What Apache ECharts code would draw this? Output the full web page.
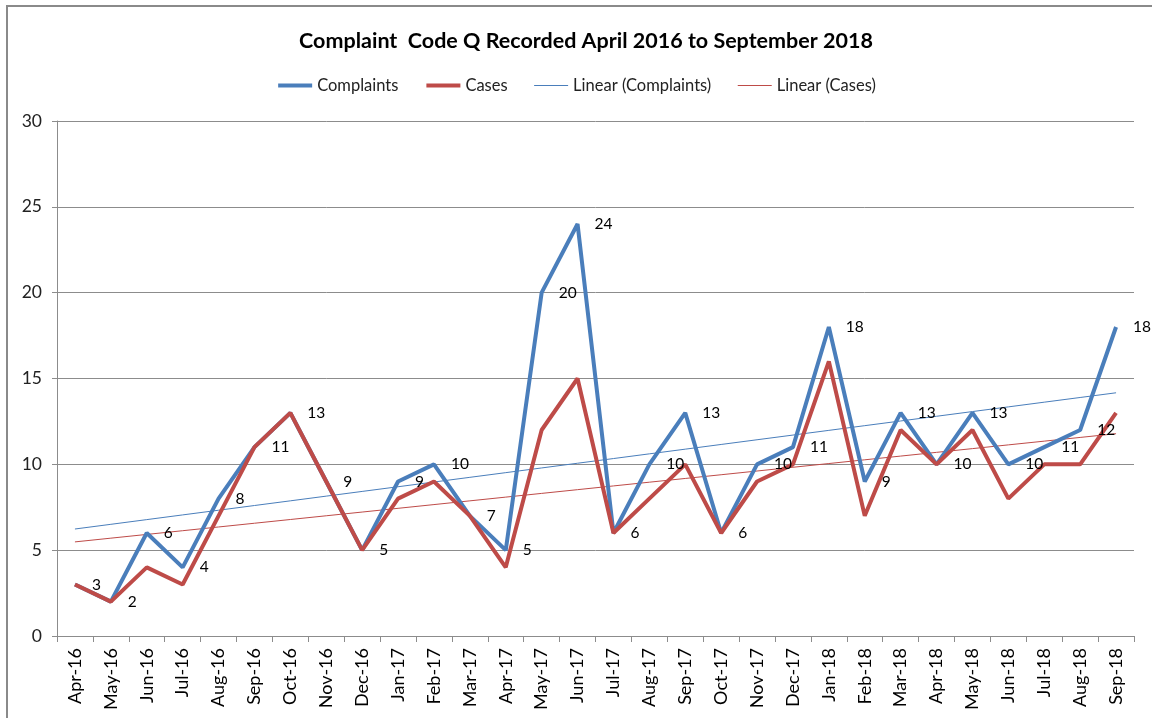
<!DOCTYPE html>
<html>
<head>
<meta charset="utf-8">
<script src="https://cdn.jsdelivr.net/npm/echarts@6/dist/echarts.min.js"></script>
<style>html,body{margin:0;padding:0;background:#fff;}#c{width:1152px;height:718px;}</style>
</head>
<body>
<div id="c"></div>
<script>
var categories = ['Apr-16','May-16','Jun-16','Jul-16','Aug-16','Sep-16','Oct-16','Nov-16','Dec-16','Jan-17','Feb-17','Mar-17','Apr-17','May-17','Jun-17','Jul-17','Aug-17','Sep-17','Oct-17','Nov-17','Dec-17','Jan-18','Feb-18','Mar-18','Apr-18','May-18','Jun-18','Jul-18','Aug-18','Sep-18'];
var complaints = [3,2,6,4,8,11,13,9,5,9,10,7,5,20,24,6,10,13,6,10,11,18,9,13,10,13,10,11,12,18];
var cases = [3,2,4,3,7,11,13,9,5,8,9,7,4,12,15,6,8,10,6,9,10,16,7,12,10,12,8,10,10,13];
var yTicks = [0,5,10,15,20,25,30];

// Excel-style linear trendline (least squares fit of the data above)
function linearTrend(vals){
  var n = vals.length, sx=0, sy=0, sxy=0, sxx=0;
  for (var i=0;i<n;i++){ sx+=i; sy+=vals[i]; sxy+=i*vals[i]; sxx+=i*i; }
  var b = (n*sxy - sx*sy)/(n*sxx - sx*sx), a = (sy - b*sx)/n;
  return vals.map(function(_,i){ return a + b*i; });
}
var trendComplaints = linearTrend(complaints);
var trendCases = linearTrend(cases);

var BLUE = '#4A7EBB', RED = '#BE4B48', GRID = '#8C8C8C';
var FONT = 'Lato, "Open Sans", sans-serif';

var chart = echarts.init(document.getElementById('c'), null, {renderer:'canvas'});
chart.setOption({
  animation: false,
  backgroundColor: '#fff',
  textStyle: {fontFamily: FONT},
  title: {
    text: 'Complaint  Code Q Recorded April 2016 to September 2018',
    left: 581, top: 25, textAlign: 'center',
    textStyle: {fontFamily: FONT, fontSize: 21.5, fontWeight: 'bold', color: '#000'}
  },
  legend: {
    top: 72, left: 'center',
    itemWidth: 34, itemHeight: 14, itemGap: 26,
    itemStyle: {opacity: 0},
    textStyle: {fontFamily: FONT, fontSize: 16.5, color: '#222'},
    data: [
      {name: 'Complaints', lineStyle: {width: 4}},
      {name: 'Cases', lineStyle: {width: 4}},
      {name: 'Linear (Complaints)', lineStyle: {width: 1}},
      {name: 'Linear (Cases)', lineStyle: {width: 1}}
    ]
  },
  graphic: [{
    type: 'rect', silent: true,
    shape: {x: 7, y: 6, width: 1300, height: 900},
    style: {fill: 'none', stroke: '#8A8A8A', lineWidth: 2}
  }],
  grid: {left: 57, right: 18, top: 121, bottom: 82, containLabel: false},
  xAxis: {
    type: 'category', data: categories, boundaryGap: true,
    axisLine: {lineStyle: {color: GRID, width: 1}},
    axisTick: {show: true, length: 6, lineStyle: {color: GRID}},
    axisLabel: {rotate: 90, interval: 0, margin: 12, fontSize: 18, color: '#000', fontFamily: FONT}
  },
  yAxis: {
    type: 'value', min: yTicks[0], max: yTicks[yTicks.length-1], interval: 5,
    axisLine: {show: true, lineStyle: {color: GRID, width: 1}},
    axisTick: {show: true, length: 5, lineStyle: {color: GRID}},
    axisLabel: {fontSize: 17.5, color: '#222', margin: 15, fontFamily: FONT},
    splitLine: {show: true, lineStyle: {color: GRID, width: 1}}
  },
  series: [
    {
      name: 'Complaints', type: 'line', data: complaints, symbol: 'none', z: 3,
      lineStyle: {color: BLUE, width: 4}, itemStyle: {color: BLUE}
    },
    {
      name: 'Cases', type: 'line', data: cases, symbol: 'none', z: 4,
      lineStyle: {color: RED, width: 4}, itemStyle: {color: RED}
    },
    {
      name: 'Linear (Complaints)', type: 'line', data: trendComplaints, symbol: 'none', z: 2,
      lineStyle: {color: BLUE, width: 1}, itemStyle: {color: BLUE}
    },
    {
      name: 'Linear (Cases)', type: 'line', data: trendCases, symbol: 'none', z: 2,
      lineStyle: {color: RED, width: 1}, itemStyle: {color: RED}
    },
    {
      name: 'ComplaintsLabels', type: 'line', data: complaints, z: 5,
      symbol: 'circle', symbolSize: 2, showSymbol: true, showAllSymbol: true,
      lineStyle: {color: 'rgba(0,0,0,0)', width: 1},
      itemStyle: {color: 'rgba(0,0,0,0)', borderWidth: 0},
      silent: true,
      label: {show: true, position: 'right', distance: 16, fontSize: 15.5, color: '#000', fontFamily: FONT}
    }
  ]
});
</script>
</body>
</html>
